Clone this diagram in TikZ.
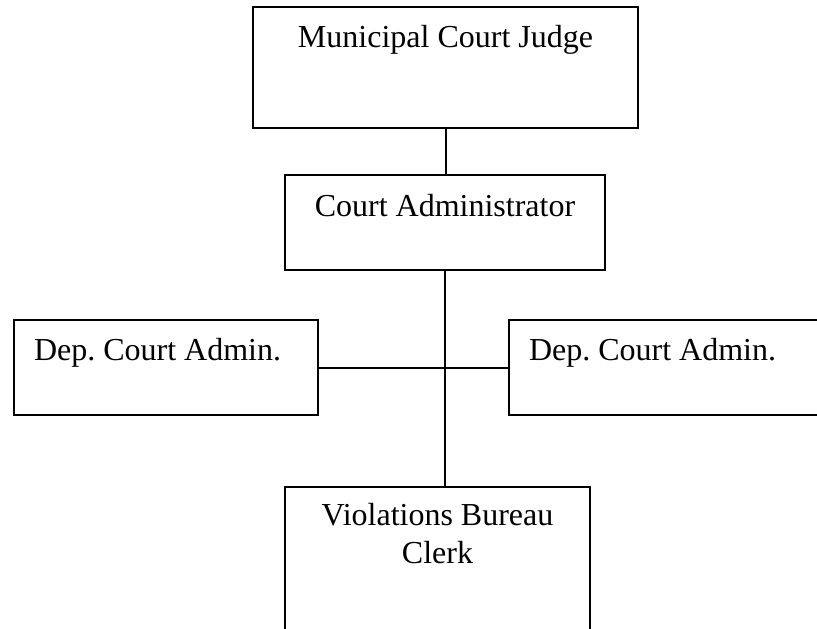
\documentclass[tikz,border=0pt]{standalone}
\usepackage{fontspec}
\setmainfont{Liberation Serif}
\usetikzlibrary{positioning}
\tikzset{
    orgbox/.style={draw, rectangle, line width=1.5pt, inner ysep=0pt,
        anchor=north west, align=center,
        font=\fontsize{24}{28.5}\selectfont\frenchspacing},
    depbox/.style={orgbox, inner xsep=15pt, align=flush left},
    orgline/.style={line width=1.5pt}
}

\begin{document}
\begin{tikzpicture}[x=0.75pt, y=-0.75pt]
    % frame of the page
    \useasboundingbox (0,0) rectangle (817,628);
    \clip (0,0) rectangle (817,628);

    % boxes
    \node[orgbox, minimum width=288.75pt, text height=30pt, text depth=60.75pt]
        (judge) at (252,6) {Municipal Court Judge};
    \node[orgbox, minimum width=240pt, text height=30.75pt, text depth=40.5pt]
        (admin) at (284,174) {Court Administrator};
    \node[depbox, text width=198pt, text height=30pt, text depth=41.25pt]
        (depleft) at (13,319) {Dep. Court Admin.};
    \node[depbox, text width=211.5pt, text height=30pt, text depth=41.25pt]
        (depright) at (508,319) {Dep. Court Admin.};
    \node[orgbox, minimum width=228.75pt, text height=57pt, text depth=66pt]
        (clerk) at (284,486) {Violations Bureau\\Clerk};

    % connectors
    \draw[orgline] (judge.south) -- (judge.south |- admin.north);
    \draw[orgline] (admin.south) -- (admin.south |- clerk.north);
    \draw[orgline] (depleft.east) -- (depleft.east -| depright.west);
\end{tikzpicture}
\end{document}
